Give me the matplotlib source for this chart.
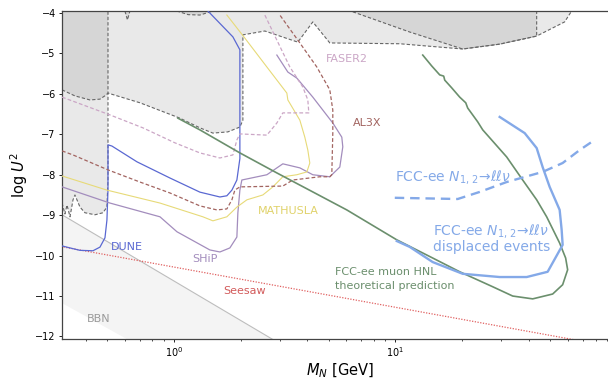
import numpy as np
import matplotlib
matplotlib.use("Agg")
import matplotlib.pyplot as plt

# ---------------- data (M_N in GeV, log10 U^2) ----------------
# excluded (grey) regions: lower boundaries
regM_x = [0.3126, 0.3575, 0.418, 0.4637, 0.4934, 0.504, 0.7025, 1.064, 1.31, 1.50, 1.752, 1.985,
          2.048, 2.048, 2.573, 3.625, 4.236, 5.054, 10.45, 20.12, 29.54, 43.39, 58.02, 62.4]
regM_y = [-5.90, -6.05, -6.15, -6.13, -6.03, -5.98, -6.22, -6.60, -6.84, -6.97, -6.94, -6.82,
          -6.65, -4.54, -4.445, -4.72, -4.22, -4.74, -4.76, -4.89, -4.77, -4.57, -4.22, -3.95]
regN_x = [6.418, 11.6, 20.12, 29.54, 43.39, 43.39]
regN_y = [-3.97, -4.47, -4.89, -4.77, -4.57, -3.95]
regL_x = [0.3126, 0.3222, 0.3292, 0.3396, 0.3504, 0.3575, 0.3767, 0.3968, 0.4402, 0.4783, 0.4985, 0.504, 0.504]
regL_y = [-8.70, -8.97, -8.75, -9.04, -8.62, -8.50, -8.80, -8.94, -8.99, -8.94, -8.80, -8.13, -3.95]
notch_x = [0.601, 0.617, 0.633]
notch_y = [-3.95, -4.17, -3.95]
bump_x = [1.03, 1.16, 1.31, 1.50]
bump_y = [-3.95, -4.04, -4.05, -3.95]

# BBN band
bbn_upper_x = [0.3126, 2.767]
bbn_upper_y = [-8.99, -12.06]
bbn_lower_x = [0.3126, 0.614]
bbn_lower_y = [-11.17, -12.06]

# Seesaw
seesaw_x = [0.3157, 61.1]
seesaw_y = [-9.785, -12.06]

# DUNE
dune_x = [0.3126, 0.3396, 0.3767, 0.4312, 0.4637, 0.4884, 0.4985, 0.504, 0.504, 0.525, 0.681, 0.959,
          1.31, 1.613, 1.734, 1.827, 1.924, 1.985, 1.985, 1.846, 1.4236]
dune_y = [-9.76, -9.81, -9.87, -9.88, -9.79, -9.56, -9.12, -8.38, -7.26, -7.29, -7.68, -8.08,
          -8.43, -8.55, -8.52, -8.38, -8.13, -7.6, -4.91, -4.59, -3.95]

# SHiP
ship_x = [2.915, 3.268, 3.588, 4.236, 5.214, 5.725, 5.785, 5.608, 5.054, 4.236, 3.702, 3.102, 2.628,
          2.026, 1.985, 1.944, 1.924, 1.789, 1.613, 1.453, 1.032, 0.865, 0.5143, 0.3126]
ship_y = [-5.04, -5.46, -5.61, -6.08, -6.72, -7.07, -7.31, -7.81, -8.05, -8.0, -7.83, -7.73, -8.0,
          -8.13, -8.38, -8.94, -9.54, -9.81, -9.91, -9.86, -9.41, -9.04, -8.70, -8.30]

# MATHUSLA
mathusla_x = [0.3126, 0.4985, 0.865, 1.351, 1.50, 1.734, 1.924, 2.135, 2.52, 2.797, 3.102, 3.588,
              3.981, 4.106, 4.022, 3.898, 3.702, 3.268, 3.234, 2.628, 2.09, 1.734]
mathusla_y = [-8.03, -8.38, -8.70, -9.04, -9.14, -9.04, -8.80, -8.62, -8.50, -8.30, -8.05, -8.0,
              -7.93, -7.71, -7.39, -7.07, -6.65, -6.15, -5.98, -5.335, -4.62, -4.05]

# AL3X
al3x_x = [0.3126, 0.3504, 0.504, 0.7025, 0.959, 1.31, 1.563, 1.734, 1.827, 1.884, 1.985, 3.102,
          3.441, 4.555, 5.054, 5.16, 5.214, 5.214, 5.054, 4.416, 3.702, 3.007]
al3x_y = [-7.41, -7.51, -7.88, -8.18, -8.45, -8.77, -8.87, -8.845, -8.62, -8.38, -8.30, -8.28,
          -8.13, -8.05, -8.05, -8.0, -6.97, -6.40, -5.90, -5.335, -4.74, -4.05]

# FASER2
faser2_x = [0.3126, 0.5143, 0.7245, 1.010, 1.31, 1.613, 1.846, 1.924, 1.985, 2.628, 2.915, 3.102,
            4.064, 4.022, 3.818, 3.337, 2.915, 2.573]
faser2_y = [-6.08, -6.52, -6.84, -7.21, -7.46, -7.585, -7.51, -7.14, -6.99, -7.02, -6.72, -6.47,
            -6.47, -6.15, -5.83, -5.335, -4.67, -4.05]

# FCC-ee muon HNL theoretical prediction
theo_x = [1.042, 1.31, 1.985, 2.915, 4.236, 6.03, 10.14, 14.73, 19.5, 27.47, 33.82, 41.63, 51.24,
          56.84, 59.87, 58.64, 55.10, 48.14, 43.39, 37.52, 31.77, 24.77, 23.5, 21.19, 20.76, 20.12,
          19.5, 17.94, 16.69, 16.51, 15.84, 14.58, 13.28]
theo_y = [-6.60, -6.89, -7.46, -7.955, -8.425, -8.87, -9.61, -10.06, -10.40, -10.77, -11.0, -11.07,
          -10.95, -10.72, -10.35, -10.06, -9.69, -9.04, -8.62, -8.13, -7.56, -6.89, -6.69, -6.35,
          -6.22, -6.15, -6.08, -5.85, -5.66, -5.56, -5.53, -5.31, -5.04]

# FCC-ee N -> llv displaced events
disp_x = [29.54, 38.31, 43.39, 46.17, 49.66, 55.10, 56.25, 56.84, 48.64, 39.12, 29.54, 20.12,
          14.73, 11.6, 10.14]
disp_y = [-6.57, -6.97, -7.34, -7.81, -8.30, -8.87, -9.36, -9.735, -10.40, -10.53, -10.53,
          -10.45, -10.16, -9.785, -9.64]

# FCC-ee N -> llv (dashed)
fcc_x = [9.93, 19.1, 24.0, 31.77, 46.17, 56.84, 67.8, 76.8]
fcc_y = [-8.57, -8.60, -8.425, -8.18, -7.93, -7.71, -7.39, -7.19]

# ---------------- figure ----------------
fig = plt.figure(figsize=(6.08, 3.78), dpi=100)
ax = fig.add_axes([62/608, 1-339.3/378, (617-62)/608, (339.3-11)/378])
ax.set_xscale('log')
ax.set_xlim(0.3125, 100)
ax.set_ylim(-12.07, -3.95)

grey_fc = '#707070'
grey_a = 0.15
edge_kw = dict(color='#666666', lw=0.8, ls=(0, (3, 1.8)))
TOP = -3.0
LEFT = 0.25

# region M
ax.fill([LEFT] + regM_x + [regM_x[-1], LEFT], [regM_y[0]] + regM_y + [TOP, TOP],
        fc=grey_fc, alpha=grey_a, lw=0, zorder=1)
ax.plot(regM_x, regM_y, zorder=2, **edge_kw)
# region N
ax.fill(regN_x + [regN_x[-1], regN_x[0]], regN_y + [TOP, TOP], fc=grey_fc, alpha=grey_a, lw=0, zorder=1)
ax.plot(regN_x, regN_y, zorder=2, **edge_kw)
# region L
ax.fill([LEFT] + regL_x + [regL_x[-1], LEFT], [regL_y[0]] + regL_y + [TOP, TOP],
        fc=grey_fc, alpha=grey_a, lw=0, zorder=1)
ax.plot(regL_x, regL_y, zorder=2, **edge_kw)
# small notch and bump
for xs, ys in [(notch_x, notch_y), (bump_x, bump_y)]:
    ax.fill(xs, ys, fc=grey_fc, alpha=grey_a, lw=0, zorder=1)
    ax.plot(xs, ys, zorder=2, **edge_kw)

# BBN band
lu = np.polyfit(np.log10(bbn_upper_x), bbn_upper_y, 1)
ll = np.polyfit(np.log10(bbn_lower_x), bbn_lower_y, 1)
xx = np.logspace(np.log10(0.25), np.log10(5), 50)
ax.fill_between(xx, np.polyval(ll, np.log10(xx)), np.polyval(lu, np.log10(xx)),
                color='#f4f4f4', lw=0, zorder=0.5)
ax.plot(xx, np.polyval(lu, np.log10(xx)), color='#bdbdbd', lw=0.8, zorder=1)

# Seesaw
ls_ = np.polyfit(np.log10(seesaw_x), seesaw_y, 1)
xs_ = np.logspace(np.log10(0.3), np.log10(100), 50)
ax.plot(xs_, np.polyval(ls_, np.log10(xs_)), color='#e06060', lw=0.9, ls=(0, (1, 1.2)), zorder=3)

# experiments
ax.plot(dune_x, dune_y, color='#5a68d2', lw=0.9, zorder=3)
ax.plot(ship_x, ship_y, color='#a38dbd', lw=0.9, zorder=3)
ax.plot(mathusla_x, mathusla_y, color='#e7da78', lw=0.8, zorder=3)
ax.plot(al3x_x, al3x_y, color='#a26460', lw=0.9, ls=(0, (3, 1.8)), zorder=3)
ax.plot(faser2_x, faser2_y, color='#cba6c6', lw=0.9, ls=(0, (3, 1.8)), zorder=3)
ax.plot(theo_x, theo_y, color='#6b8f6d', lw=1.2, zorder=4)
ax.plot(disp_x, disp_y, color='#84a9e8', lw=1.7, zorder=4)
ax.plot(fcc_x, fcc_y, color='#84a9e8', lw=1.7, ls=(0, (4, 2.5)), zorder=4)

# labels
ax.text(0.52, -9.78, 'DUNE', color='#5a68d2', fontsize=8, va='center', ha='left')
ax.text(1.38, -10.08, 'SHiP', color='#a38dbd', fontsize=8, va='center', ha='center')
ax.text(3.30, -8.895, 'MATHUSLA', color='#e0d26a', fontsize=8, va='center', ha='center')
ax.text(7.42, -6.72, 'AL3X', color='#a26460', fontsize=8, va='center', ha='center')
ax.text(6.03, -5.125, 'FASER2', color='#cba6c6', fontsize=8, va='center', ha='center')
ax.text(2.09, -10.885, 'Seesaw', color='#d25a5a', fontsize=8, va='center', ha='center')
ax.text(0.459, -11.56, 'BBN', color='#9a9a9a', fontsize=8, va='center', ha='center')
ax.text(5.325, -10.58, 'FCC-ee muon HNL\ntheoretical prediction', color='#6b8f6d', fontsize=8,
        va='center', ha='left', linespacing=1.45)
ax.text(9.93, -8.05, r'FCC-ee $N_{1,\,2}$→$\ell\ell\nu$', color='#84a9e8', fontsize=10,
        va='center', ha='left')
ax.text(14.73, -9.575, 'FCC-ee $N_{1,\\,2}$→$\\ell\\ell\\nu$\ndisplaced events', color='#84a9e8',
        fontsize=10, va='center', ha='left', linespacing=1.0)

ax.set_xlabel(r'$M_N$ [GeV]', fontsize=10.5, labelpad=1.5)
ax.set_ylabel(r'log $U^2$', fontsize=10.5, labelpad=4)
ax.set_yticks([-4, -5, -6, -7, -8, -9, -10, -11, -12])
ax.tick_params(axis='both', which='major', labelsize=7, length=2.5, width=0.6, pad=2)
ax.tick_params(axis='both', which='minor', length=1.5, width=0.5)
for s in ax.spines.values():
    s.set_linewidth(0.9)
    s.set_color('#444444')

fig.savefig('out.png', dpi=100)
